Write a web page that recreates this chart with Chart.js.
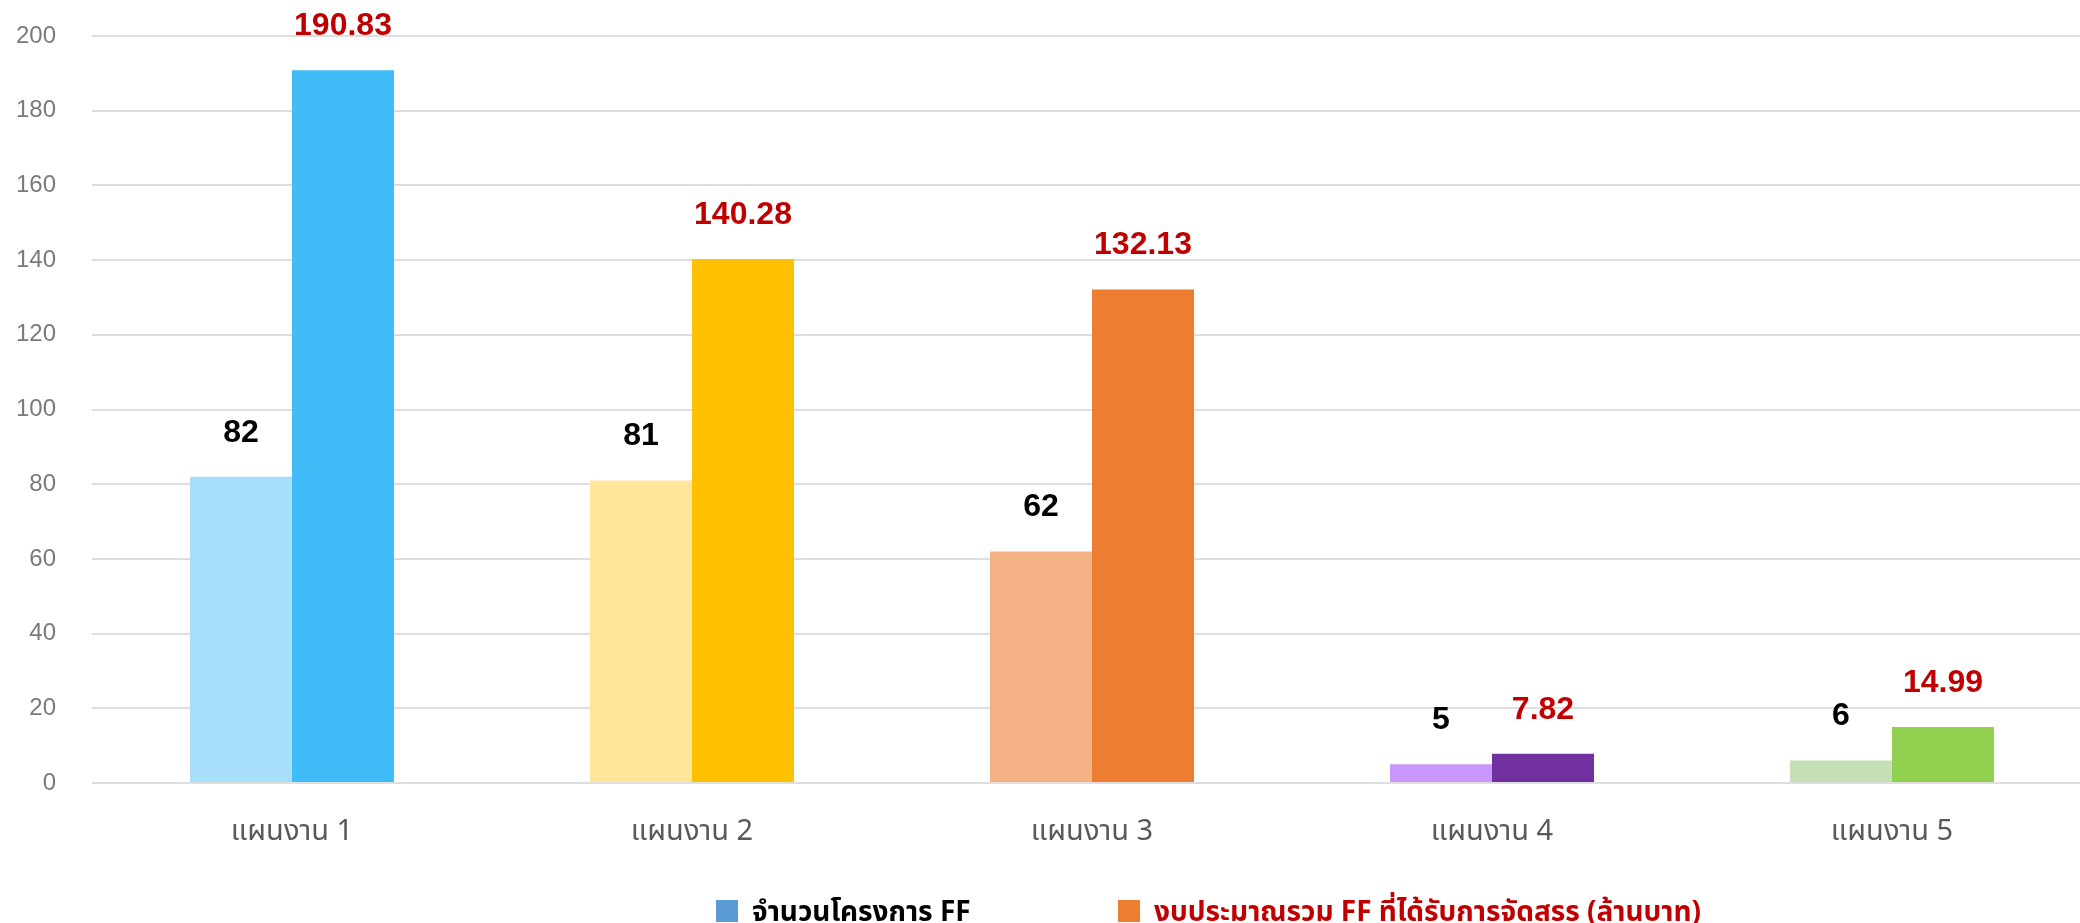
<!DOCTYPE html>
<html lang="th">
<head>
<meta charset="utf-8">
<title>แผนงาน FF</title>
<script src="https://cdn.jsdelivr.net/npm/chart.js@4.4.1/dist/chart.umd.min.js"></script>
<style>
    html, body {
        margin: 0;
        padding: 0;
        background: #ffffff;
        overflow: hidden;
    }
    .wrap {
        position: relative;
        width: 2080px;
        height: 923px;
        overflow: hidden;
    }
    .chart-box {
        position: absolute;
        left: 0;
        top: 0;
        width: 2092px;
        height: 923px;
    }
    .legend {
        position: absolute;
        top: 891px;
        left: 0;
        height: 40px;
        font-family: Tahoma, 'Noto Sans Thai', 'Noto Sans', sans-serif;
        font-weight: bold;
        font-size: 28px;
        white-space: nowrap;
    }
    .legend-item {
        position: absolute;
        top: 0;
        display: flex;
        align-items: flex-start;
    }
    .legend-swatch {
        width: 22px;
        height: 22px;
        margin-top: 9px;
        margin-right: 14px;
    }
</style>
</head>
<body>
<div class="wrap">
    <div class="chart-box"><canvas id="ffChart"></canvas></div>
    <div class="legend" id="ffLegend"></div>
</div>
<script>
// Data
const categories = ['แผนงาน 1', 'แผนงาน 2', 'แผนงาน 3', 'แผนงาน 4', 'แผนงาน 5'];
const projectCounts = [82, 81, 62, 5, 6];
const budgetMillions = [190.83, 140.28, 132.13, 7.82, 14.99];
const seriesNames = ['จำนวนโครงการ FF', 'งบประมาณรวม FF ที่ได้รับการจัดสรร (ล้านบาท)'];
const yMax = 200;
const yStep = 20;

// Per-category colours (light = counts, dark = budget)
const lightColors = ['#a7defa', '#ffe699', '#f4b183', '#c996fb', '#c5e0b4'];
const darkColors = ['#40bcf9', '#ffc000', '#ed7d31', '#7030a0', '#92d050'];
const legendColors = ['#5b9bd5', '#ed7d31'];
const labelColors = ['#000000', '#c00000'];

document.addEventListener('DOMContentLoaded', function() {
    const canvas = document.getElementById('ffChart');

    // Value labels above each bar
    const valueLabels = {
        id: 'valueLabels',
        afterDatasetsDraw(chart) {
            const ctx = chart.ctx;
            ctx.save();
            ctx.font = "bold 32px 'Liberation Sans', Arial, sans-serif";
            ctx.textAlign = 'center';
            ctx.textBaseline = 'middle';
            chart.data.datasets.forEach((ds, i) => {
                const meta = chart.getDatasetMeta(i);
                ctx.fillStyle = labelColors[i];
                meta.data.forEach((bar, j) => {
                    const v = ds.data[j];
                    const text = i === 1 ? v.toFixed(2) : String(v);
                    ctx.fillText(text, bar.x, bar.y - 44);
                });
            });
            ctx.restore();
        }
    };

    new Chart(canvas.getContext('2d'), {
        type: 'bar',
        data: {
            labels: categories,
            datasets: [
                {
                    label: seriesNames[0],
                    data: projectCounts,
                    backgroundColor: lightColors,
                    borderWidth: 0
                },
                {
                    label: seriesNames[1],
                    data: budgetMillions,
                    backgroundColor: darkColors,
                    borderWidth: 0
                }
            ]
        },
        options: {
            responsive: true,
            maintainAspectRatio: false,
            animation: false,
            layout: {
                padding: { top: 36, right: 0, bottom: 0, left: 0 }
            },
            datasets: {
                bar: {
                    categoryPercentage: 0.51,
                    barPercentage: 1.0
                }
            },
            plugins: {
                legend: { display: false },
                tooltip: { enabled: false }
            },
            scales: {
                x: {
                    grid: { display: false, drawTicks: false },
                    border: { display: false },
                    ticks: {
                        color: '#595959',
                        padding: 34,
                        font: { size: 29, family: "Tahoma, 'Noto Sans Thai', 'Noto Sans', sans-serif" }
                    },
                    afterFit: function(scale) {
                        scale.height = 140;
                    }
                },
                y: {
                    min: 0,
                    max: yMax,
                    grid: {
                        color: '#dedede',
                        lineWidth: 2,
                        drawTicks: false
                    },
                    border: { display: false },
                    ticks: {
                        stepSize: yStep,
                        color: '#7a7a7a',
                        padding: 36,
                        font: { size: 24, family: "'Liberation Sans', Arial, sans-serif" }
                    },
                    afterFit: function(scale) {
                        // fixed axis width; tick padding should not push the plot down
                        scale.width = 92;
                        scale.paddingTop = 0;
                        scale.paddingBottom = 0;
                    }
                }
            }
        },
        plugins: [valueLabels]
    });

    // Legend as HTML, placed like the original
    const legend = document.getElementById('ffLegend');
    const legendLeft = [716, 1118];
    seriesNames.forEach((name, i) => {
        const item = document.createElement('div');
        item.className = 'legend-item';
        item.style.left = legendLeft[i] + 'px';
        const sw = document.createElement('span');
        sw.className = 'legend-swatch';
        sw.style.background = legendColors[i];
        const txt = document.createElement('span');
        txt.textContent = name;
        txt.style.color = labelColors[i];
        item.appendChild(sw);
        item.appendChild(txt);
        legend.appendChild(item);
    });
});
</script>
</body>
</html>
